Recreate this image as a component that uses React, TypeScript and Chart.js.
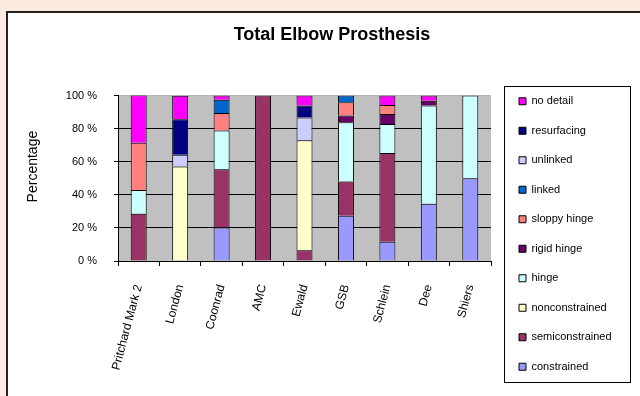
import { useEffect, useRef } from "react";
import { Chart, registerables } from "chart.js";

Chart.register(...registerables);

const FONT = "'Liberation Sans', Arial, sans-serif";

const categories = [
  "Pritchard Mark 2",
  "London",
  "Coonrad",
  "AMC",
  "Ewald",
  "GSB",
  "Schlein",
  "Dee",
  "Shiers",
];

// Percent of each prosthesis in each design class (stacked bottom to top)
const constrained = [null, null, 20.2, null, null, 27.4, 11.7, 34.6, 50];
const semiconstrained = [28.6, null, 35.2, 100, 6.5, 20.7, 53.5, null, null];
const nonconstrained = [null, 57.1, null, null, 66.5, null, null, null, null];
const hinge = [14.3, null, 23.5, null, null, 35.7, 17.6, 59.3, 50];
const rigidHinge = [null, null, null, null, null, 4.1, 6, 3, null];
const sloppyHinge = [28.6, null, 10.6, null, null, 8, 5.5, null, null];
const linked = [null, null, 8, null, null, 4.1, null, null, null];
const unlinked = [null, 7.1, null, null, 13.7, null, null, null, null];
const resurfacing = [null, 21.4, null, null, 7.2, null, null, null, null];
const noDetail = [28.6, 14.3, 2.5, null, 6.1, null, 5.7, 3.1, null];

const seriesNames = [
  "constrained",
  "semiconstrained",
  "nonconstrained",
  "hinge",
  "rigid hinge",
  "sloppy hinge",
  "linked",
  "unlinked",
  "resurfacing",
  "no detail",
];
const seriesValues = [
  constrained,
  semiconstrained,
  nonconstrained,
  hinge,
  rigidHinge,
  sloppyHinge,
  linked,
  unlinked,
  resurfacing,
  noDetail,
];
const seriesColors = [
  "#9999FF",
  "#993366",
  "#FFFFCC",
  "#CCFFFF",
  "#660066",
  "#FF8080",
  "#0066CC",
  "#CCCCFF",
  "#000080",
  "#FF00FF",
];

const yTickSuffix = " %";

const plotBg = {
  id: "plotBg",
  beforeDraw(chart: any) {
    const { ctx, chartArea } = chart;
    ctx.save();
    ctx.fillStyle = "#C0C0C0";
    ctx.fillRect(chartArea.left, chartArea.top, chartArea.right - chartArea.left, chartArea.bottom - chartArea.top);
    ctx.restore();
  },
};

const legendShift = {
  id: "legendShift",
  beforeLayout(chart: any) {
    const lg = chart.legend;
    if (lg && !lg.__fixedWidth) {
      const orig = lg.fit.bind(lg);
      lg.fit = function () {
        orig();
        this.width = 149;
      };
      lg.__fixedWidth = true;
    }
  },
  afterLayout(chart: any) {
    const lg = chart.legend;
    if (!lg) return;
    const dx = 9.5;
    const dy = 24;
    lg.left += dx;
    lg.right += dx;
    lg.top += dy;
    lg.bottom += dy;
  },
};

const legendBorder = {
  id: "legendBorder",
  afterDraw(chart: any) {
    const lg = chart.legend;
    if (!lg || !lg.legendHitBoxes || !lg.legendHitBoxes.length) return;
    const hb = lg.legendHitBoxes;
    let minL = Infinity, minT = Infinity, maxB = -Infinity;
    for (const h of hb) {
      minL = Math.min(minL, h.left);
      minT = Math.min(minT, h.top);
      maxB = Math.max(maxB, h.top + h.height);
    }
    const { ctx } = chart;
    ctx.save();
    ctx.strokeStyle = "#000";
    ctx.lineWidth = 1;
    const x = Math.round(minL - 15) + 0.5;
    const y = Math.round(minT - 10) + 0.5;
    const b = Math.round(maxB + 9.5) + 0.5;
    ctx.strokeRect(x, y, 126, b - y);
    ctx.restore();
  },
};

export default function App() {
  const ref = useRef<HTMLCanvasElement>(null);

  useEffect(() => {
    const datasets = seriesNames.map((name, i) => ({
      label: name,
      data: seriesValues[i],
      backgroundColor: seriesColors[i],
      borderColor: "#000",
      borderWidth: 1,
      barPercentage: 0.386,
      categoryPercentage: 1.0,
    }));

    const chart = new Chart(ref.current as HTMLCanvasElement, {
      type: "bar",
      data: { labels: categories, datasets: datasets as any },
      options: {
        animation: false,
        responsive: false,
        devicePixelRatio: 1,
        layout: { padding: { left: 24, right: 0, top: 24, bottom: 0 } },
        plugins: {
          title: {
            display: true,
            text: "Total Elbow Prosthesis",
            color: "#000",
            font: { family: FONT, size: 18, weight: "bold" },
            padding: { top: 0, bottom: 49.9 },
          },
          legend: {
            position: "right",
            reverse: true,
            labels: {
              boxWidth: 7,
              boxHeight: 7,
              padding: 18.5,
              color: "#000",
              font: { family: FONT, size: 11 },
            },
          },
          tooltip: { enabled: false },
        },
        scales: {
          x: {
            stacked: true,
            grid: {
              offset: true,
              drawOnChartArea: false,
              drawTicks: true,
              tickLength: 5,
              tickColor: "#000",
            },
            border: { color: "#000", width: 1 },
            ticks: {
              minRotation: 75,
              maxRotation: 75,
              autoSkip: false,
              color: "#000",
              font: { family: FONT, size: 12 },
              padding: 17,
            },
            afterFit: (s: any) => {
              s.height = 135;
            },
          },
          y: {
            stacked: true,
            min: 0,
            max: 100,
            ticks: {
              stepSize: 20,
              callback: (v: any) => v + yTickSuffix,
              color: "#000",
              font: { family: FONT, size: 11 },
              padding: 17,
            },
            grid: {
              color: (c: any) => (c.tick && c.tick.value === 100 ? "#b4b4b4" : "#000"),
              tickColor: "#000",
              tickLength: 4,
            },
            border: { color: "#000", width: 1 },
            title: {
              display: true,
              text: "      Percentage",
              color: "#000",
              font: { family: FONT, size: 14 },
              padding: { top: 0.6, bottom: 0 },
            },
            afterFit: (s: any) => {
              s.width = 94;
            },
          },
        },
      } as any,
      plugins: [plotBg, legendShift, legendBorder],
    });
    return () => chart.destroy();
  }, []);

  return (
    <div
      style={{
        position: "fixed",
        left: 0,
        top: 0,
        width: 640,
        height: 396,
        background: "#FCECE0",
        overflow: "hidden",
      }}
    >
      <div
        style={{
          position: "absolute",
          left: 6,
          top: 11,
          width: 650,
          height: 400,
          background: "#fff",
          borderLeft: "2px solid #222",
          borderTop: "2px solid #222",
        }}
      />
      <canvas
        ref={ref}
        width={640}
        height={396}
        style={{ position: "absolute", left: 0, top: 0, width: 640, height: 396 }}
      />
    </div>
  );
}
